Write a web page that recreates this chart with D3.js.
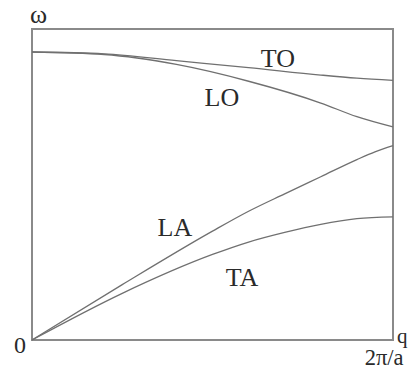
<!DOCTYPE html>
<html>
<head>
<meta charset="utf-8">
<script src="https://cdn.jsdelivr.net/npm/d3@7"></script>
<style>
  html, body { margin: 0; padding: 0; background: #fff; }
  svg { display: block; }
  text { font-family: "Liberation Serif", "Times New Roman", serif; fill: #2a2a2a; }
</style>
</head>
<body>
<svg id="chart" width="409" height="372"></svg>
<script>
// Wave vector q as a fraction of 2π/a, frequency ω in units of the top of the frame
const qTO = [0, 0.2, 0.4, 0.6, 0.8, 0.9, 1];
const wTO = [0.926, 0.92, 0.898, 0.876, 0.852, 0.842, 0.835];

const qLO = [0, 0.2, 0.4, 0.6, 0.8, 0.9, 1];
const wLO = [0.926, 0.918, 0.886, 0.832, 0.762, 0.718, 0.685];

const qLA = [0, 0.25, 0.5, 0.6, 0.7, 0.8, 0.9, 0.95, 1];
const wLA = [0, 0.178, 0.35, 0.414, 0.47, 0.525, 0.58, 0.605, 0.625];

const qTA = [0, 0.25, 0.5, 0.6, 0.7, 0.8, 0.9, 1];
const wTA = [0, 0.15, 0.275, 0.315, 0.346, 0.372, 0.39, 0.396];

// Branch labels and where they sit (q, ω)
const branchNames = ["TO", "LO", "LA", "TA"];
const labelQ = [0.681, 0.526, 0.396, 0.582];
const labelW = [0.878, 0.752, 0.334, 0.174];

const xTickValues = [1];
const xTickLabels = ["2π/a"];
const yTickValues = [0];
const yTickLabels = ["0"];

const svg = d3.select("#chart");
const x = d3.scaleLinear().domain([0, 1]).range([32, 393]);
const y = d3.scaleLinear().domain([0, 1]).range([340, 29]);

// Frame
svg.append("rect")
  .attr("x", x(0)).attr("y", y(1))
  .attr("width", x(1) - x(0)).attr("height", y(0) - y(1))
  .attr("fill", "none").attr("stroke", "#8a8a8a").attr("stroke-width", 2);

// Axes: only the end labels are shown
const xAxis = svg.append("g")
  .attr("transform", `translate(0,${y(0)})`)
  .call(d3.axisBottom(x).tickValues(xTickValues)
    .tickFormat((d, i) => xTickLabels[i]).tickSize(0).tickPadding(9));
xAxis.select(".domain").remove();
xAxis.selectAll("text")
  .attr("font-size", 22.5).attr("fill", "#2a2a2a")
  .attr("font-family", "Liberation Serif, serif")
  .attr("text-anchor", "end").attr("dx", 10);

const yAxis = svg.append("g")
  .attr("transform", `translate(${x(0)},0)`)
  .call(d3.axisLeft(y).tickValues(yTickValues)
    .tickFormat((d, i) => yTickLabels[i]).tickSize(0).tickPadding(6));
yAxis.select(".domain").remove();
yAxis.selectAll("text")
  .attr("font-size", 24).attr("fill", "#2a2a2a")
  .attr("font-family", "Liberation Serif, serif")
  .attr("dy", "0.5em");

// Axis names
svg.append("text").attr("x", x(0) - 2).attr("y", y(1) - 6)
  .attr("font-size", 26).text("ω");
svg.append("text").attr("x", x(1) + 4).attr("y", y(0) + 3)
  .attr("font-size", 21).text("q");

// Dispersion branches
const line = d3.line()
  .x(d => x(d[0])).y(d => y(d[1]))
  .curve(d3.curveMonotoneX);

const branches = [
  [qTO, wTO], [qLO, wLO], [qLA, wLA], [qTA, wTA]
];
branches.forEach(([qs, ws]) => {
  svg.append("path")
    .datum(qs.map((q, i) => [q, ws[i]]))
    .attr("d", line)
    .attr("fill", "none")
    .attr("stroke", "#707070")
    .attr("stroke-width", 1.3);
});

// Branch labels
branchNames.forEach((name, i) => {
  svg.append("text")
    .attr("x", x(labelQ[i])).attr("y", y(labelW[i]))
    .attr("text-anchor", "middle")
    .attr("font-size", 26)
    .text(name);
});
</script>
</body>
</html>
